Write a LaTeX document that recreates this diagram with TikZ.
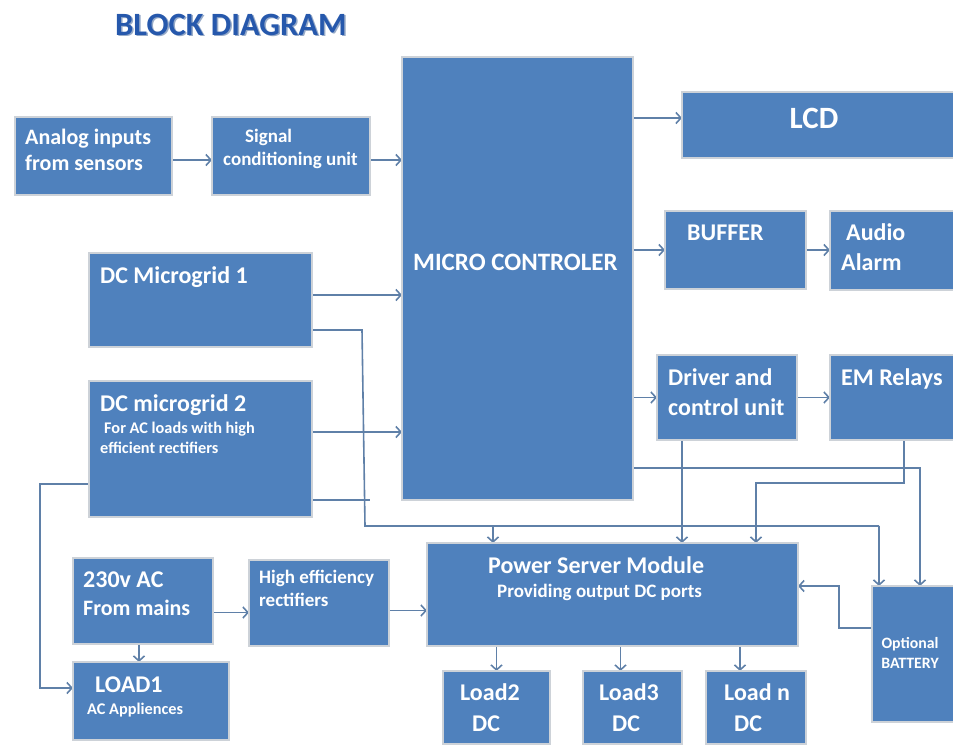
\documentclass[tikz,border=0pt]{standalone}
\usepackage{fontspec}
\setmainfont{Carlito}
\usetikzlibrary{arrows.meta,backgrounds}
\definecolor{boxblue}{RGB}{79,129,189}
\definecolor{boxedge}{RGB}{205,210,216}
\definecolor{wire}{RGB}{95,128,168}
\definecolor{titleblue}{RGB}{38,88,172}
\definecolor{titleshade}{RGB}{150,170,200}
\begin{document}
\begin{tikzpicture}[x=1pt,y=-1pt,
  blk/.style={draw=boxedge, line width=1.5pt, fill=boxblue, inner sep=0pt, outer sep=0pt, anchor=north west},
  lbl/.style={text=white, font=\bfseries\fontsize{#1}{#1}\selectfont, anchor=base west, inner sep=0pt},
  clbl/.style={lbl=#1, anchor=base},
  wireline/.style={draw=wire, line width=1.6pt},
  conn/.style={wireline, -{Straight Barb[length=5pt,width=11pt]}},
]
\useasboundingbox (0,0) rectangle (953,753);
\clip (0,0) rectangle (953,753);

% title
\node[anchor=base west, inner sep=0pt, text=titleshade, font=\bfseries\fontsize{32.5}{32.5}\selectfont] (titleshadow) at (116.5,36.5) {BLOCK DIAGRAM};
\node[anchor=base west, inner sep=0pt, text=titleblue, font=\bfseries\fontsize{32.5}{32.5}\selectfont] (title) at (115,35) {BLOCK DIAGRAM};

% blocks
\node[blk, minimum width=157pt, minimum height=78pt] (analog) at (15,117) {};
\node[blk, minimum width=158pt, minimum height=78pt] (signal) at (212,117) {};
\node[blk, minimum width=231pt, minimum height=443pt] (micro) at (402,57) {};
\node[blk, minimum width=290pt, minimum height=66pt] (lcd) at (682,92) {};
\node[blk, minimum width=141pt, minimum height=78pt] (buffer) at (665,211) {};
\node[blk, minimum width=140pt, minimum height=79pt] (audio) at (830,211) {};
\node[blk, minimum width=223pt, minimum height=94pt] (dcm1) at (89,253) {};
\node[blk, minimum width=223pt, minimum height=136pt] (dcm2) at (89,381) {};
\node[blk, minimum width=140pt, minimum height=85pt] (driver) at (657,355) {};
\node[blk, minimum width=140pt, minimum height=85pt] (em) at (830,355) {};
\node[blk, minimum width=371pt, minimum height=103pt] (psm) at (427,543) {};
\node[blk, minimum width=100pt, minimum height=136pt] (battery) at (872,586) {};
\node[blk, minimum width=140pt, minimum height=86pt] (ac) at (73,558) {};
\node[blk, minimum width=140pt, minimum height=86pt] (he) at (249,560) {};
\node[blk, minimum width=156pt, minimum height=78pt] (load1) at (73,662) {};
\node[blk, minimum width=107pt, minimum height=73pt] (load2) at (443,671) {};
\node[blk, minimum width=99pt, minimum height=73pt] (load3) at (583,671) {};
\node[blk, minimum width=100pt, minimum height=73pt] (loadn) at (706,671) {};

% labels
\node[lbl=22] (t1) at (25,144) {Analog inputs};
\node[lbl=22] (t2) at (25,170) {from sensors};
\node[lbl=19] (t3) at (245,142) {Signal};
\node[lbl=19] (t4) at (223,165) {conditioning unit};
\node[lbl=25] (t5) at (413,270) {MICRO CONTROLER};
\node[clbl=31] (t6) at (814,128) {LCD};
\node[lbl=24] (t7) at (687,240) {BUFFER};
\node[lbl=24] (t8) at (846,240) {Audio};
\node[lbl=24] (t9) at (841,270) {Alarm};
\node[lbl=24] (t10) at (100,283) {DC Microgrid 1};
\node[lbl=24] (t11) at (100,411) {DC microgrid 2};
\node[lbl=16.3] (t12) at (104,433) {For AC loads with high};
\node[lbl=16.3] (t13) at (100,453) {efficient rectifiers};
\node[lbl=24] (t14) at (668,385) {Driver and};
\node[lbl=24] (t15) at (668,415) {control unit};
\node[lbl=24] (t16) at (841,385) {EM Relays};
\node[lbl=24] (t17) at (488,573) {Power Server Module};
\node[lbl=19] (t18) at (497,597) {Providing output DC ports};
\node[clbl=15.8] (t19) at (910,648) {Optional};
\node[clbl=15.8] (t20) at (910,668) {BATTERY};
\node[lbl=24] (t21) at (83,587) {230v AC};
\node[lbl=22] (t22) at (83,615) {From mains};
\node[lbl=19] (t23) at (259,583) {High efficiency};
\node[lbl=19] (t24) at (259,606) {rectifiers};
\node[lbl=24] (t25) at (95,692) {LOAD1};
\node[lbl=16.3] (t26) at (87,714) {AC Appliences};
\node[lbl=24] (t27) at (460,700) {Load2};
\node[lbl=24] (t28) at (472,731) {DC};
\node[lbl=24] (t29) at (599,700) {Load3};
\node[lbl=24] (t30) at (612,731) {DC};
\node[lbl=24] (t31) at (724,700) {Load n};
\node[lbl=24] (t32) at (734,731) {DC};

% routing points
\coordinate (busA) at (362,330);
\coordinate (busB) at (365,526);
\coordinate (busC) at (879,526);
\coordinate (tapA) at (493,526);
\coordinate (stub) at (370,500);
\coordinate (lA) at (40,484);
\coordinate (lB) at (40,688);
\coordinate (eA) at (904,483);
\coordinate (eB) at (756,483);
\coordinate (mA) at (920,468);
\coordinate (bA) at (839,628);
\coordinate (bB) at (839,586);

\begin{pgfonlayer}{background}
\draw[conn] ([yshift=-4pt]analog.east) -- ([yshift=-4pt]analog.east -| signal.west);
\draw[conn] ([yshift=-4pt]signal.east) -- ([yshift=-4pt]signal.east -| micro.west);
\draw[conn] ([yshift=7pt]lcd.west -| micro.east) -- ([yshift=7pt]lcd.west);
\draw[conn] (buffer.west -| micro.east) -- (buffer.west);
\draw[conn] (buffer.east) -- (buffer.east -| audio.west);
\draw[conn] (driver.west -| micro.east) -- (driver.west);
\draw[conn] (driver.east) -- (driver.east -| em.west);
\draw[conn] ([yshift=5pt]dcm1.east) -- ([yshift=5pt]dcm1.east -| micro.west);
\draw[conn] ([yshift=17pt]dcm2.east) -- ([yshift=17pt]dcm2.east -| micro.west);
\draw[wireline] (busA -| dcm1.east) -- (busA) -- (busB) -- (busC);
\draw[conn] (busC) -- (busC |- battery.north);
\draw[conn] (tapA) -- (tapA |- psm.north);
\draw[wireline] (stub -| dcm2.east) -- (stub);
\draw[conn] ([xshift=8pt]lA -| dcm2.west) -- (lA) -- (lB) -- (lB -| load1.west);
\draw[conn] ([yshift=-11.5pt]ac.east) -- ([yshift=-11.5pt]ac.east -| he.west);
\draw[conn] ([xshift=-4pt]ac.south) -- ([xshift=-4pt]ac.south |- load1.north);
\draw[conn] ([yshift=-7.5pt]he.east) -- ([yshift=-7.5pt]he.east -| psm.west);
\draw[conn] ([xshift=-45pt]driver.south) -- ([xshift=-45pt]driver.south |- psm.north);
\draw[conn] (eA |- em.south) -- (eA) -- (eB) -- (eB |- psm.north);
\draw[conn] (mA -| micro.east) -- (mA) -- (mA |- battery.north);
\draw[conn] (bA -| battery.west) -- (bA) -- (bB) -- (bB -| psm.east);
\draw[conn] (psm.south -| load2.north) -- (load2.north);
\draw[conn] ([xshift=-12pt]load3.north |- psm.south) -- ([xshift=-12pt]load3.north);
\draw[conn] ([xshift=-16pt]loadn.north |- psm.south) -- ([xshift=-16pt]loadn.north);
\end{pgfonlayer}
\end{tikzpicture}
\end{document}
